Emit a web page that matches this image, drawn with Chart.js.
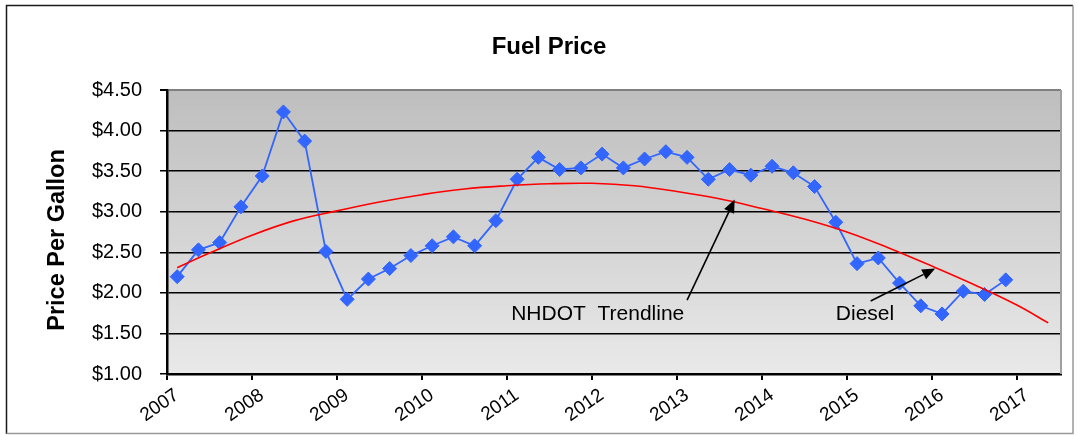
<!DOCTYPE html>
<html>
<head>
<meta charset="utf-8">
<script src="https://cdn.jsdelivr.net/npm/chart.js@4.4.0/dist/chart.umd.min.js"></script>
<style>
  html, body { margin: 0; padding: 0; background: #fff; }
</style>
</head>
<body>
<canvas id="fuel" width="1078" height="435"></canvas>
<script>
// quarterly diesel price samples (decimal year)
const quarterYears = [
  2007.12, 2007.37, 2007.62, 2007.87,
  2008.12, 2008.37, 2008.62, 2008.87,
  2009.12, 2009.37, 2009.62, 2009.87,
  2010.12, 2010.37, 2010.62, 2010.87,
  2011.12, 2011.37, 2011.62, 2011.87,
  2012.12, 2012.37, 2012.62, 2012.87,
  2013.12, 2013.37, 2013.62, 2013.87,
  2014.12, 2014.37, 2014.62, 2014.87,
  2015.12, 2015.37, 2015.62, 2015.87,
  2016.12, 2016.37, 2016.62, 2016.87
];
const dieselPrice = [
  2.20, 2.53, 2.62, 3.06,
  3.44, 4.23, 3.87, 2.51,
  1.92, 2.17, 2.30, 2.46,
  2.58, 2.69, 2.58, 2.89,
  3.40, 3.67, 3.52, 3.54,
  3.71, 3.54, 3.65, 3.74,
  3.67, 3.40, 3.52, 3.45,
  3.56, 3.48, 3.31, 2.87,
  2.36, 2.43, 2.12, 1.84,
  1.74, 2.02, 1.98, 2.16
];

// NHDOT trendline
const trendYears = [2007.12, 2007.5, 2008, 2008.5, 2009, 2009.5, 2010, 2010.5, 2011, 2011.5,
  2012, 2012.5, 2013, 2013.5, 2014, 2014.5, 2015, 2015.5, 2016, 2016.5, 2017, 2017.37];
const trendPrice = [2.31, 2.49, 2.71, 2.89, 3.01, 3.12, 3.21, 3.28, 3.32, 3.345,
  3.35, 3.32, 3.25, 3.16, 3.04, 2.91, 2.75, 2.55, 2.33, 2.10, 1.85, 1.63];

const yearTicks = [2007, 2008, 2009, 2010, 2011, 2012, 2013, 2014, 2015, 2016, 2017];
const priceTicks = [1, 1.5, 2, 2.5, 3, 3.5, 4, 4.5];

const notes = [
  { text: 'NHDOT  Trendline', at: [2011.05, 1.67], from: [2013.12, 1.91], to: [2013.68, 3.15] },
  { text: 'Diesel', at: [2014.87, 1.67], from: [2015.28, 1.90], to: [2016.04, 2.30] }
];

const FONT = "'Liberation Sans', Arial, sans-serif";
Chart.defaults.font.family = FONT;
Chart.defaults.color = '#000';

const excelLook = {
  id: 'excelLook',
  beforeDraw(chart) {
    const { ctx, chartArea: a } = chart;
    ctx.save();
    const g = ctx.createLinearGradient(0, a.top, 0, a.bottom);
    g.addColorStop(0, '#bebebe');
    g.addColorStop(1, '#e9e9e9');
    ctx.fillStyle = g;
    ctx.fillRect(a.left, a.top, a.right - a.left, a.bottom - a.top);
    // outer frame
    ctx.lineWidth = 1.5;
    ctx.strokeStyle = '#1a1a1a';
    ctx.beginPath();
    ctx.moveTo(6.5, 434);
    ctx.lineTo(6.5, 5.5);
    ctx.lineTo(1073, 5.5);
    ctx.stroke();
    ctx.strokeStyle = '#999';
    ctx.beginPath();
    ctx.moveTo(1073, 5.5);
    ctx.lineTo(1073, 433.5);
    ctx.lineTo(6.5, 433.5);
    ctx.stroke();
    // titles
    ctx.fillStyle = '#000';
    ctx.textAlign = 'center';
    ctx.textBaseline = 'middle';
    ctx.font = 'bold 24px ' + FONT;
    ctx.fillText('Fuel Price', 549, 47);
    ctx.translate(58, 240);
    ctx.rotate(-Math.PI / 2);
    ctx.font = 'bold 23.5px ' + FONT;
    ctx.fillText('Price Per Gallon', 0, 0);
    ctx.restore();
  },
  beforeDatasetsDraw(chart) {
    const { ctx, chartArea: a } = chart;
    ctx.save();
    ctx.strokeStyle = '#a0a0a0';
    ctx.lineWidth = 2;
    ctx.beginPath();
    ctx.moveTo(a.right, a.top);
    ctx.lineTo(a.right, a.bottom);
    ctx.stroke();
    ctx.restore();
  },
  afterDatasetsDraw(chart) {
    const { ctx } = chart;
    const xs = chart.scales.x, ys = chart.scales.y;
    ctx.save();
    ctx.fillStyle = '#000';
    ctx.strokeStyle = '#000';
    ctx.font = '21px ' + FONT;
    ctx.textBaseline = 'alphabetic';
    notes.forEach(n => {
      ctx.fillText(n.text, xs.getPixelForValue(n.at[0]), ys.getPixelForValue(n.at[1]));
      const x0 = xs.getPixelForValue(n.from[0]), y0 = ys.getPixelForValue(n.from[1]);
      const x1 = xs.getPixelForValue(n.to[0]), y1 = ys.getPixelForValue(n.to[1]);
      const ang = Math.atan2(y1 - y0, x1 - x0);
      const len = 13, half = 5.5;
      const bx = x1 - len * Math.cos(ang), by = y1 - len * Math.sin(ang);
      ctx.lineWidth = 1.6;
      ctx.beginPath();
      ctx.moveTo(x0, y0);
      ctx.lineTo(bx, by);
      ctx.stroke();
      ctx.beginPath();
      ctx.moveTo(x1, y1);
      ctx.lineTo(bx + half * Math.sin(ang), by - half * Math.cos(ang));
      ctx.lineTo(bx - half * Math.sin(ang), by + half * Math.cos(ang));
      ctx.closePath();
      ctx.fill();
    });
    ctx.restore();
  }
};

new Chart(document.getElementById('fuel'), {
  type: 'line',
  data: {
    datasets: [
      {
        label: 'NHDOT Trendline',
        data: trendYears.map((x, i) => ({ x: x, y: trendPrice[i] })),
        borderColor: '#ff0000',
        borderWidth: 1.6,
        pointRadius: 0,
        tension: 0.4,
        order: 0
      },
      {
        label: 'Diesel',
        data: quarterYears.map((x, i) => ({ x: x, y: dieselPrice[i] })),
        borderColor: '#3366ff',
        backgroundColor: '#3366ff',
        borderWidth: 1.8,
        pointStyle: 'rectRot',
        pointRadius: 7,
        pointBorderWidth: 1,
        tension: 0,
        order: 1
      }
    ]
  },
  options: {
    responsive: false,
    animation: false,
    layout: { padding: { left: 0, right: 17, top: 90, bottom: 0 } },
    plugins: {
      legend: { display: false },
      tooltip: { enabled: false },
      title: { display: false }
    },
    scales: {
      x: {
        type: 'linear',
        min: 2007,
        max: 2017.52,
        afterBuildTicks: s => { s.ticks = yearTicks.map(v => ({ value: v })); },
        afterFit: s => { s.height = 61; },
        ticks: {
          minRotation: 35,
          maxRotation: 35,
          padding: 4,
          labelOffset: 10,
          font: { size: 19 },
          color: '#000',
          callback: v => String(v)
        },
        grid: { drawOnChartArea: false, drawTicks: true, tickLength: 6, color: '#000', lineWidth: 2 },
        border: { color: '#000', width: 2.5 }
      },
      y: {
        min: 1,
        max: 4.5,
        afterBuildTicks: s => { s.ticks = priceTicks.map(v => ({ value: v })); },
        afterFit: s => { s.width = 167; },
        ticks: {
          padding: 18,
          font: { size: 20 },
          color: '#000',
          callback: v => '$' + v.toFixed(2)
        },
        grid: {
          color: c => (c.tick && c.tick.value === 4.5) ? '#808080' : '#000',
          lineWidth: c => (c.tick && c.tick.value === 4.5) ? 2 : 1.5,
          tickColor: '#000',
          tickLength: 7
        },
        border: { color: '#000', width: 2.5 }
      }
    }
  },
  plugins: [excelLook]
});
</script>
</body>
</html>
